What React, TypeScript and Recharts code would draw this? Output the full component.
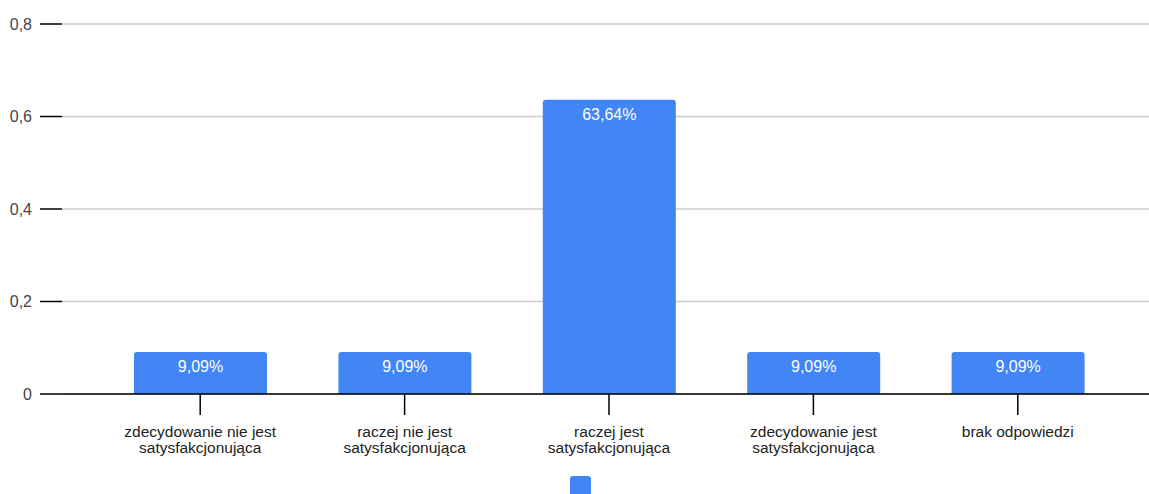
import React from "react";
import { Bar, BarChart, CartesianGrid, LabelList, XAxis, YAxis } from "recharts";

const categories = [
  "zdecydowanie nie jest satysfakcjonująca",
  "raczej nie jest satysfakcjonująca",
  "raczej jest satysfakcjonująca",
  "zdecydowanie jest satysfakcjonująca",
  "brak odpowiedzi",
];
const shares = [0.0909, 0.0909, 0.6364, 0.0909, 0.0909];
const yTicks = [0, 0.2, 0.4, 0.6, 0.8];

const data = categories.map((name, i) => ({ name, value: shares[i] }));

const FONT = '"Liberation Sans", Arial, sans-serif';
const BAR_COLOR = "#4285f4";

const fmtComma = (v: number, digits: number) =>
  v.toFixed(digits).replace(".", ",");

// rough width estimate for greedy word wrap of the category labels
const measure = (s: string) => s.length * 8.1;

function wrapWords(text: string, maxWidth: number): string[] {
  const words = text.split(" ");
  const lines: string[] = [];
  let cur = "";
  for (const w of words) {
    const next = cur ? `${cur} ${w}` : w;
    if (cur && measure(next) > maxWidth) {
      lines.push(cur);
      cur = w;
    } else {
      cur = next;
    }
  }
  if (cur) lines.push(cur);
  return lines;
}

function CategoryTick(props: any) {
  const { x, y, payload } = props;
  const lines = wrapWords(payload.value, 185);
  return (
    <text x={x} y={y + 20} textAnchor="middle" fill="#222" fontSize={15.5} fontFamily={FONT}>
      {lines.map((line, i) => (
        <tspan key={i} x={x} dy={i === 0 ? 0 : 15.5}>
          {line}
        </tspan>
      ))}
    </text>
  );
}

function ValueLabel(props: any) {
  const { x, y, width, value } = props;
  return (
    <text
      x={x + width / 2}
      y={y + 20}
      textAnchor="middle"
      fill="#ffffff"
      fontSize={16}
      fontFamily={FONT}
    >
      {fmtComma(value * 100, 2)}%
    </text>
  );
}

export default function App() {
  return (
    <div
      style={{
        position: "absolute",
        left: 0,
        top: 0,
        width: 1149,
        height: 494,
        overflow: "hidden",
        background: "#fff",
      }}
    >
      <BarChart
        width={1149}
        height={494}
        data={data}
        margin={{ top: 24, right: 0, left: 0, bottom: 0 }}
        barSize={133}
      >
        <CartesianGrid vertical={false} stroke="#cccccc" strokeWidth={1.5} />
        <XAxis
          dataKey="name"
          interval={0}
          height={100}
          padding={{ left: 36, right: 29 }}
          axisLine={{ stroke: "#000", strokeWidth: 1.5 }}
          tickLine={{ stroke: "#000", strokeWidth: 1.5 }}
          tickSize={21}
          tick={<CategoryTick />}
        />
        <YAxis
          width={62}
          domain={[0, 0.8]}
          ticks={yTicks}
          axisLine={false}
          tickLine={{ stroke: "#000", strokeWidth: 1.5 }}
          tickSize={22}
          tickMargin={8}
          tick={{ fill: "#444", fontSize: 16, fontFamily: FONT }}
          tickFormatter={(v: number) => (v === 0 ? "0" : fmtComma(v, 1))}
        />
        <Bar dataKey="value" fill={BAR_COLOR} radius={[3, 3, 0, 0]} isAnimationActive={false}>
          <LabelList dataKey="value" content={<ValueLabel />} />
        </Bar>
      </BarChart>
      {/* legend swatch for the single series */}
      <div
        style={{
          position: "absolute",
          left: 570,
          top: 476,
          width: 21,
          height: 21,
          borderRadius: 3,
          background: BAR_COLOR,
        }}
      />
    </div>
  );
}
